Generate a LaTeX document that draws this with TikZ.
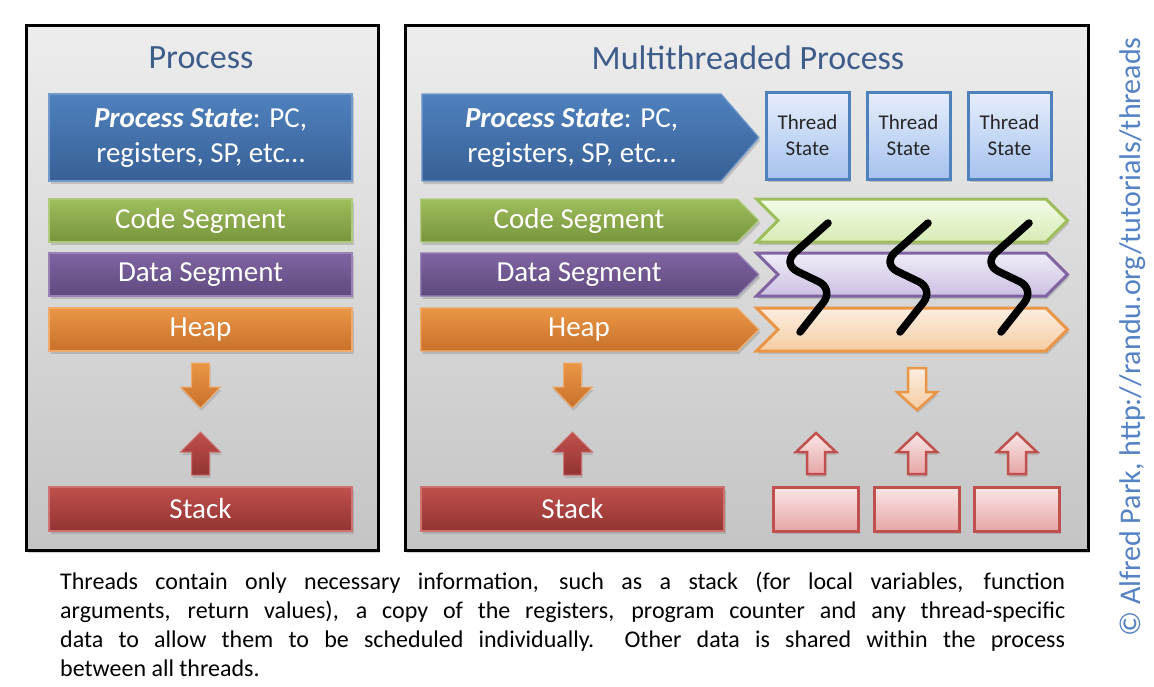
\documentclass[tikz,border=0pt]{standalone}
\usepackage{fontspec}
\setmainfont{Carlito}
\usepackage{tikz}
\usetikzlibrary{shapes.symbols,shadows,positioning}
\definecolor{mypaneltop}{RGB}{237,237,237}
\definecolor{mypanelbot}{RGB}{196,196,196}
\definecolor{mytitle}{RGB}{62,92,138}
\definecolor{mycredit}{RGB}{84,130,196}
\definecolor{mybluetop}{RGB}{79,129,189}
\definecolor{mybluebot}{RGB}{56,96,150}
\definecolor{mygreentop}{RGB}{158,190,92}
\definecolor{mygreenbot}{RGB}{120,148,60}
\definecolor{mypurpletop}{RGB}{128,100,162}
\definecolor{mypurplebot}{RGB}{94,74,126}
\definecolor{myorangetop}{RGB}{234,150,70}
\definecolor{myorangebot}{RGB}{200,112,42}
\definecolor{myredtop}{RGB}{192,80,77}
\definecolor{myredbot}{RGB}{146,52,50}
\definecolor{mylgreentop}{RGB}{243,251,232}
\definecolor{mylgreenbot}{RGB}{214,236,180}
\definecolor{mylpurpletop}{RGB}{240,236,248}
\definecolor{mylpurplebot}{RGB}{204,192,226}
\definecolor{mylorangetop}{RGB}{252,238,224}
\definecolor{mylorangebot}{RGB}{245,204,162}
\definecolor{mylbluetop}{RGB}{230,238,252}
\definecolor{mylbluebot}{RGB}{166,194,238}
\definecolor{mylpinktop}{RGB}{250,230,230}
\definecolor{mylpinkbot}{RGB}{230,166,166}
\newcommand{\titlefont}{\fontsize{34}{40}\selectfont}
\newcommand{\segfont}{\fontsize{29}{35}\selectfont}
\newcommand{\threadfont}{\fontsize{21}{26}\selectfont}
\newcommand{\notefont}{\fontsize{24}{29}\selectfont}
\newcommand{\creditfont}{\fontsize{30}{36}\selectfont}
\tikzstyle{panel}=[draw=black,line width=3pt,top color=mypaneltop,bottom color=mypanelbot,inner sep=0pt,drop shadow={shadow xshift=2pt,shadow yshift=-3pt,opacity=0.35}]
\tikzstyle{title}=[text=mytitle,font=\titlefont,inner sep=0pt]
\tikzstyle{block}=[rectangle,inner sep=0pt,text=white,font=\segfont,align=center,line width=1.2pt,minimum width=303pt,minimum height=43pt,drop shadow={shadow xshift=1.5pt,shadow yshift=-3pt,opacity=0.35}]
\tikzstyle{arrowblock}=[block,shape=signal,signal to=east]
\tikzstyle{shared}=[shape=signal,signal from=west,signal to=east,inner sep=0pt,line width=3pt,minimum width=311pt,minimum height=43pt,drop shadow={shadow xshift=1.5pt,shadow yshift=-3pt,opacity=0.35}]
\tikzstyle{threadbox}=[draw=mybluetop,line width=3pt,top color=mylbluetop,bottom color=mylbluebot,inner sep=0pt,minimum width=83pt,minimum height=87pt,align=center,font=\threadfont,text=black!85,drop shadow={shadow xshift=1.5pt,shadow yshift=-3pt,opacity=0.35}]
\tikzstyle{stackbox}=[draw=myredtop,line width=3pt,top color=mylpinktop,bottom color=mylpinkbot,inner sep=0pt,minimum width=85pt,minimum height=44pt,drop shadow={shadow xshift=1.5pt,shadow yshift=-3pt,opacity=0.35}]
\tikzstyle{squiggle}=[line width=7.5pt,line cap=round,rounded corners=17pt]
\newcommand{\blockarrow}[5]{%
  \draw[#1] (#2-9,#3) -- (#2-9,#4) -- (#2-20,#4) -- (#2,#5) -- (#2+20,#4) -- (#2+9,#4) -- (#2+9,#3) -- cycle;}

\begin{document}
\begin{tikzpicture}[
  x=1pt,y=-1pt,
  heaparrow/.style={top color=myorangetop,bottom color=myorangebot,draw=myorangetop!80!white,line width=1pt,drop shadow={shadow xshift=1pt,shadow yshift=-3pt,opacity=0.3}},
  stackarrow/.style={top color=myredtop,bottom color=myredbot,draw=myredtop!80!white,line width=1pt,drop shadow={shadow xshift=1pt,shadow yshift=-3pt,opacity=0.3}},
  lheaparrow/.style={top color=mylorangetop,bottom color=mylorangebot,draw=myorangetop,line width=2.5pt,drop shadow={shadow xshift=1pt,shadow yshift=-3pt,opacity=0.3}},
  lstackarrow/.style={top color=mylpinktop,bottom color=mylpinkbot,draw=myredtop,line width=2.5pt,drop shadow={shadow xshift=1pt,shadow yshift=-3pt,opacity=0.3}},
]
\useasboundingbox[fill=white] (0,0) rectangle (1154,686);

% panels
\node [panel, minimum width=352pt, minimum height=525pt] (lpanel) at (202,287.5) {};
\node [panel, minimum width=683pt, minimum height=525pt] (rpanel) at (746.5,287.5) {};
\node [title] (ltitle) at (201,58) {Process};
\node [title] (rtitle) at (748,58) {Multithreaded Process};

% single threaded process
\node [block, top color=mybluetop, bottom color=mybluebot, draw=mybluetop!80!white, minimum height=87pt] (lstate) at (200.5,137.5)
  {\textbf{\textit{Process State}}: PC,\\registers, SP, etc…};
\node [block, top color=mygreentop, bottom color=mygreenbot, draw=mygreentop!80!white] (lcode) at (200.5,220.5) {Code Segment};
\node [block, top color=mypurpletop, bottom color=mypurplebot, draw=mypurpletop!80!white] (ldata) at (200.5,274.5) {Data Segment};
\node [block, top color=myorangetop, bottom color=myorangebot, draw=myorangetop!80!white] (lheap) at (200.5,329.5) {Heap};
\node [block, top color=myredtop, bottom color=myredbot, draw=myredtop!80!white, minimum height=44pt] (lstack) at (200.5,509) {Stack};
\blockarrow{heaparrow}{200.5}{363}{387}{408}
\blockarrow{stackarrow}{200.5}{475}{452}{432}

% multithreaded process
\node [arrowblock, top color=mybluetop, bottom color=mybluebot, draw=mybluetop!80!white, minimum width=337pt, minimum height=87pt, signal pointer angle=98] (rstate) at (571.5,137.5)
  {\textbf{\textit{Process State}}: PC,\\registers, SP, etc…};
\node [threadbox] (thread1) at (807.5,135.5) {Thread\\State};
\node [threadbox] (thread2) at (908.5,135.5) {Thread\\State};
\node [threadbox] (thread3) at (1009.5,135.5) {Thread\\State};

\node [arrowblock, top color=mygreentop, bottom color=mygreenbot, draw=mygreentop!80!white, minimum width=338pt] (rcode) at (579,220.5) {Code Segment};
\node [arrowblock, top color=mypurpletop, bottom color=mypurplebot, draw=mypurpletop!80!white, minimum width=338pt] (rdata) at (579,274.5) {Data Segment};
\node [arrowblock, top color=myorangetop, bottom color=myorangebot, draw=myorangetop!80!white, minimum width=338pt] (rheap) at (579,329.5) {Heap};

\node [shared, draw=mygreentop, top color=mylgreentop, bottom color=mylgreenbot] (scode) at (912,220.5) {};
\node [shared, draw=mypurpletop, top color=mylpurpletop, bottom color=mylpurplebot] (sdata) at (912,274.5) {};
\node [shared, draw=myorangetop, top color=mylorangetop, bottom color=mylorangebot] (sheap) at (912,329.5) {};

\draw [squiggle] (828,223) -- (782,264) -- (834,289) -- (800,332);
\draw [squiggle] (928,223) -- (882,264) -- (934,289) -- (900,332);
\draw [squiggle] (1029,223) -- (983,264) -- (1035,289) -- (1001,332);

\node [block, top color=myredtop, bottom color=myredbot, draw=myredtop!80!white, minimum height=44pt] (rstack) at (572.5,509) {Stack};
\blockarrow{heaparrow}{572.5}{363}{387}{408}
\blockarrow{stackarrow}{572.5}{475}{452}{432}

\node [stackbox] (tstack1) at (816,509) {};
\node [stackbox] (tstack2) at (917,509) {};
\node [stackbox] (tstack3) at (1017,509) {};
\blockarrow{lheaparrow}{917}{368}{392}{410}
\blockarrow{lstackarrow}{816}{474}{452}{433}
\blockarrow{lstackarrow}{917}{474}{452}{433}
\blockarrow{lstackarrow}{1017}{474}{452}{433}

% caption and credit
\node [anchor=north west, inner sep=0pt, text width=1005pt, align=justify, font=\notefont] (note) at (60,572)
  {Threads contain only necessary information, such as a stack (for local variables, function\linebreak
   arguments, return values), a copy of the registers, program counter and any thread-specific\linebreak
   data to allow them to be scheduled individually.\ \ Other data is shared within the process\linebreak
   between all threads.};
\node [rotate=90, text=mycredit, font=\creditfont, inner sep=0pt] (credit) at (1133,337)
  {© Alfred Park, http://randu.org/tutorials/threads};

\end{tikzpicture}
\end{document}
